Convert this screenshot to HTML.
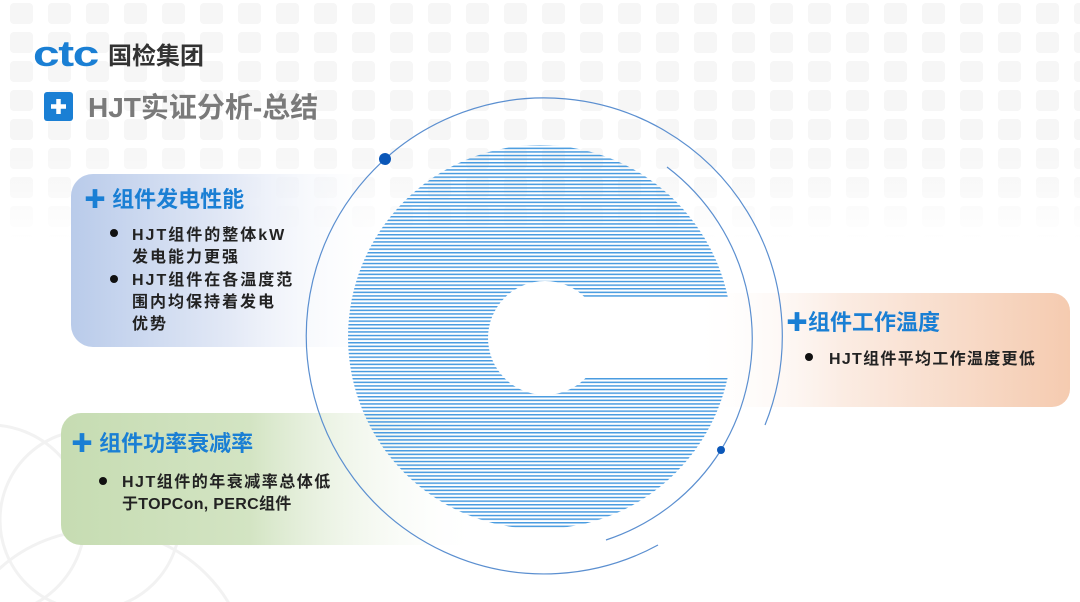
<!DOCTYPE html>
<html><head><meta charset="utf-8"><style>
html,body{margin:0;width:1080px;height:602px;overflow:hidden;background:#fff;font-family:"Liberation Sans","Noto Sans CJK SC",sans-serif}
svg{display:block}
</style></head><body>
<svg width="1080" height="602" viewBox="0 0 1080 602" xmlns="http://www.w3.org/2000/svg" style="font-family:'Liberation Sans','Noto Sans CJK SC',sans-serif">
<defs>
<pattern id="sq" x="10" y="3" width="38" height="29" patternUnits="userSpaceOnUse"><rect width="23" height="21" rx="4" fill="#f6f6f6"/></pattern>
<linearGradient id="fadeV" x1="0" y1="0" x2="0" y2="1"><stop offset="0" stop-color="#fff" stop-opacity="0"/><stop offset="0.5" stop-color="#fff" stop-opacity="0.3"/><stop offset="1" stop-color="#fff" stop-opacity="1"/></linearGradient>
<pattern id="hl" x="0" y="0" width="10" height="3.6" patternUnits="userSpaceOnUse"><rect y="0" width="10" height="1.5" fill="#4a9ce0"/></pattern>
<mask id="cm"><circle cx="540" cy="337" r="192" fill="#fff"/><circle cx="545" cy="338" r="57" fill="#000"/><rect x="545" y="297" width="200" height="80" fill="#000"/></mask>
<linearGradient id="gb" x1="0" x2="1"><stop offset="0" stop-color="#b9cbea"/><stop offset="0.5" stop-color="#e3e9f6"/><stop offset="1" stop-color="#fff" stop-opacity="0"/></linearGradient>
<linearGradient id="go" x1="0" x2="1"><stop offset="0" stop-color="#fff" stop-opacity="0"/><stop offset="0.4" stop-color="#fbece3"/><stop offset="1" stop-color="#f5cbb0"/></linearGradient>
<linearGradient id="gg" x1="0" x2="1"><stop offset="0" stop-color="#c6dcb2"/><stop offset="0.45" stop-color="#d3e4c3"/><stop offset="1" stop-color="#fff" stop-opacity="0"/></linearGradient>
</defs>
<rect x="0" y="0" width="1080" height="240" fill="url(#sq)"/>
<rect x="0" y="130" width="1080" height="110" fill="url(#fadeV)"/>
<g fill="none" stroke="#f2f2f2" stroke-width="3">
<circle cx="90" cy="520" r="90"/><circle cx="-10" cy="520" r="95"/><circle cx="100" cy="680" r="150"/>
</g>
<rect x="71" y="174" width="320" height="173" rx="22" fill="url(#gb)"/>
<rect x="690" y="293" width="380" height="114" rx="18" fill="url(#go)"/>
<rect x="61" y="413" width="420" height="132" rx="20" fill="url(#gg)"/>
<rect x="340" y="143" width="400" height="390" fill="url(#hl)" mask="url(#cm)"/>
<g fill="none" stroke="#5b8fd0" stroke-width="1.2">
<path d="M 721 450 A 215 215 0 0 1 606 540"/>
<path d="M 667 167 A 215 215 0 0 1 721 450"/>
<path d="M 765 425 A 238 238 0 1 0 658 545"/>
</g>
<circle cx="385" cy="159" r="6" fill="#0b57b8"/>
<circle cx="721" cy="450" r="4" fill="#0b57b8"/>
<text x="33" y="66" font-size="36" font-weight="bold" fill="#1a7fd4" letter-spacing="-1" textLength="65" lengthAdjust="spacingAndGlyphs">ctc</text>
<text x="108" y="64" font-size="24" font-weight="bold" fill="#333">国检集团</text>
<rect x="44" y="92" width="29" height="29" rx="3" fill="#1a7fd4"/>
<path d="M58.5 99v15M51 106.5h15" stroke="#fff" stroke-width="4.5"/>
<text x="88" y="117" font-size="28" font-weight="bold" fill="#7a7a7a">HJT实证分析-总结</text>
<g font-weight="bold">
<text x="84" y="207" font-size="22" fill="#1a7fd4">✚ 组件发电性能</text>
<g font-size="16" fill="#222" letter-spacing="2">
<circle cx="114" cy="233" r="4" fill="#111"/>
<text x="132" y="240">HJT组件的整体kW</text>
<text x="132" y="262">发电能力更强</text>
<circle cx="114" cy="279" r="4" fill="#111"/>
<text x="132" y="285">HJT组件在各温度范</text>
<text x="132" y="307">围内均保持着发电</text>
<text x="132" y="329">优势</text>
</g>
<text x="786" y="330" font-size="22" fill="#1a7fd4">✚组件工作温度</text>
<circle cx="809" cy="357" r="4" fill="#111"/>
<text x="829" y="364" font-size="16" fill="#222" letter-spacing="1.3">HJT组件平均工作温度更低</text>
<text x="71" y="451" font-size="22" fill="#1a7fd4">✚ 组件功率衰减率</text>
<g font-size="16" fill="#222" letter-spacing="1.5">
<circle cx="103" cy="481" r="4" fill="#111"/>
<text x="122" y="487">HJT组件的年衰减率总体低</text>
<text x="122" y="509" letter-spacing="0.3">于TOPCon, PERC组件</text>
</g>
</g>
</svg>
</body></html>
